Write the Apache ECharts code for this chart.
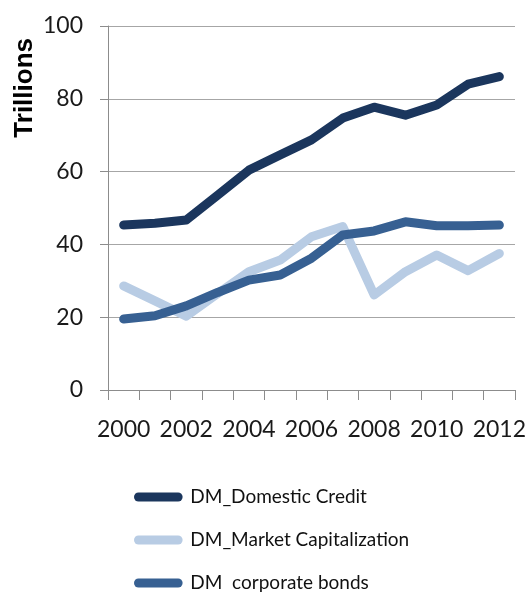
<!DOCTYPE html>
<html>
<head>
<meta charset="utf-8">
<style>
  html, body { margin: 0; padding: 0; background: #ffffff; }
  #chart { width: 529px; height: 593px; }
</style>
<script src="https://cdn.jsdelivr.net/npm/echarts@6/dist/echarts.min.js"></script>
</head>
<body>
<div id="chart"></div>
<script>
// Years on the horizontal axis
const years = ['2000','2001','2002','2003','2004','2005','2006','2007','2008','2009','2010','2011','2012'];

// Developed-market totals, in trillions
const domesticCredit = [45.3, 45.8, 46.7, 53.5, 60.4, 64.6, 68.7, 74.7, 77.7, 75.5, 78.3, 84.0, 86.1];
const marketCap      = [28.6, 24.5, 20.3, 26.5, 32.5, 35.7, 42.1, 44.9, 26.1, 32.5, 37.1, 32.8, 37.5];
const corporateBonds = [19.5, 20.4, 23.1, 26.8, 30.2, 31.6, 36.2, 42.6, 43.7, 46.2, 45.1, 45.1, 45.3];

const seriesNames  = ['DM_Domestic Credit', 'DM_Market Capitalization', 'DM  corporate bonds'];
const seriesColors = ['#1b365d', '#b8cce4', '#376092'];

const FONT = 'Lato, "Open Sans", sans-serif';

const chart = echarts.init(document.getElementById('chart'), null, { renderer: 'canvas' });

function lineSeries(name, data, color) {
  return {
    name: name,
    type: 'line',
    data: data,
    showSymbol: false,
    symbol: 'none',
    smooth: false,
    color: color,
    lineStyle: { width: 9, color: color, cap: 'round', join: 'round' },
    emphasis: { disabled: true },
    animation: false
  };
}

chart.setOption({
  animation: false,
  grid: { left: 108, right: 13, top: 26, bottom: 203, containLabel: false },
  legend: {
    orient: 'vertical',
    left: 134,
    top: 487,
    padding: 0,
    height: 106,
    itemWidth: 54,
    itemHeight: 9,
    itemGap: 23,
    icon: 'path://M5,0 H49 A5,5 0 0 1 49,10 H5 A5,5 0 0 1 5,0 Z',
    textStyle: { fontFamily: FONT, fontSize: 19, color: '#111111', lineHeight: 20 },
    data: seriesNames
  },
  xAxis: {
    type: 'category',
    data: years,
    boundaryGap: true,
    axisLine: { lineStyle: { color: '#8c8c8c', width: 1 } },
    axisTick: { show: true, length: 10, alignWithLabel: false, interval: 0, lineStyle: { color: '#8c8c8c' } },
    axisLabel: {
      interval: 1, margin: 28, fontFamily: FONT, fontSize: 23, color: '#1a1a1a',
      showMinLabel: true, showMaxLabel: true, hideOverlap: false
    },
    splitLine: { show: false }
  },
  yAxis: {
    type: 'value',
    min: 0,
    max: 100,
    interval: 20,
    axisLine: { show: true, lineStyle: { color: '#8c8c8c', width: 1 } },
    axisTick: { show: true, length: 8, lineStyle: { color: '#8c8c8c' } },
    axisLabel: { margin: 25, fontFamily: FONT, fontSize: 23, color: '#1a1a1a' },
    splitLine: { show: true, lineStyle: { color: '#a6a6a6', width: 1 } }
  },
  // Rotated axis title beside the tick labels
  graphic: [{
    type: 'text',
    left: 12,
    top: 38,
    rotation: Math.PI / 2,
    style: {
      text: 'Trillions',
      font: 'bold 26px "Liberation Sans", Arial, sans-serif',
      fill: '#000000'
    }
  }],
  series: [
    lineSeries(seriesNames[0], domesticCredit, seriesColors[0]),
    lineSeries(seriesNames[1], marketCap, seriesColors[1]),
    lineSeries(seriesNames[2], corporateBonds, seriesColors[2])
  ]
});
</script>
</body>
</html>
